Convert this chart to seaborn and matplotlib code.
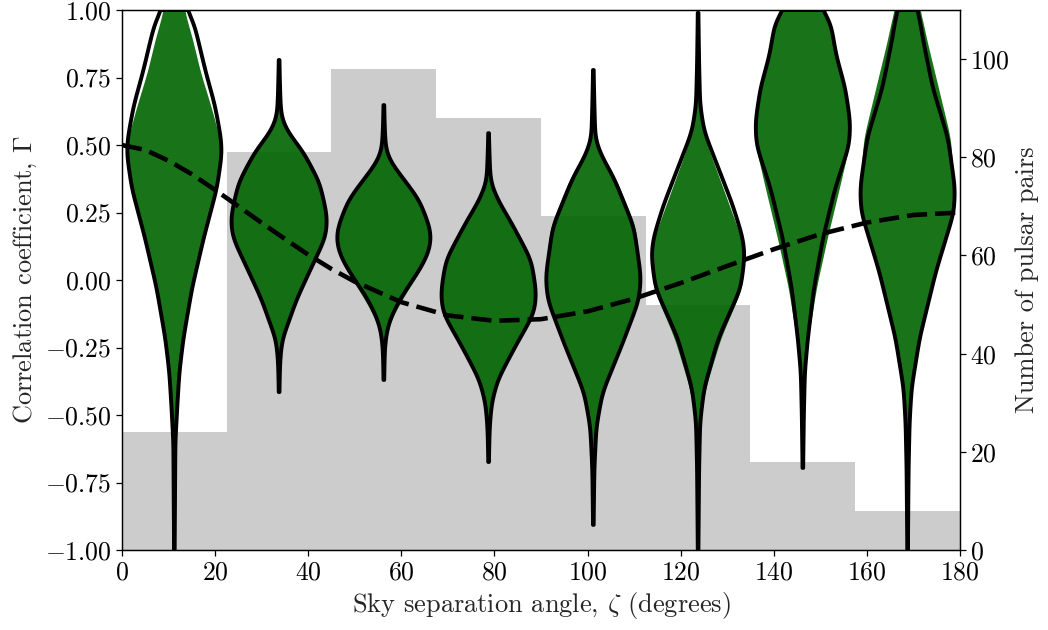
import matplotlib
matplotlib.use('Agg')
import matplotlib.pyplot as plt
import numpy as np
import seaborn as sns

# angular bins (degrees) and pulsar pairs in each bin
bin_edges = [0, 22.5, 45, 67.5, 90, 112.5, 135, 157.5, 180]
bin_centres = [11.25, 33.75, 56.25, 78.75, 101.25, 123.75, 146.25, 168.75]
pair_counts = [24, 81, 98, 88, 68, 50, 18, 8]

# Hellings-Downs curve
hd_angle = [0, 5, 10, 15, 20, 25, 30, 35, 40, 45, 50, 60, 70, 80, 90, 100, 110, 120, 130,
            140, 150, 160, 170, 180]
hd_gamma = [0.500, 0.482, 0.442, 0.392, 0.334, 0.273, 0.212, 0.152, 0.094, 0.041, -0.006,
            -0.082, -0.131, -0.151, -0.145, -0.116, -0.069, -0.011, 0.052, 0.114, 0.170,
            0.213, 0.241, 0.250]

# violin profiles: (correlation, relative density) for each bin
black_profiles = [
    [(-1.0, 0.3), (-0.6, 1), (-0.46, 3), (-0.34, 5), (-0.215, 9), (-0.03, 17.5), (0.156, 29),
     (0.34, 42), (0.47, 47), (0.526, 46), (0.648, 40), (0.77, 31), (0.896, 23), (0.956, 19),
     (0.985, 15), (1.0, 11.7)],
    [(-0.415, 0.3), (-0.30, 1), (-0.22, 3), (-0.16, 9), (-0.074, 17), (0.048, 32), (0.16, 46),
     (0.233, 47.5), (0.36, 40), (0.48, 23), (0.55, 8), (0.604, 2), (0.70, 1), (0.815, 0.3)],
    [(-0.37, 0.3), (-0.25, 1), (-0.185, 3), (-0.137, 7), (-0.063, 17), (0.037, 35), (0.10, 44),
     (0.15, 46.5), (0.185, 46), (0.296, 35), (0.396, 15), (0.44, 6), (0.48, 2), (0.55, 1),
     (0.648, 0.3)],
    [(-0.674, 0.3), (-0.55, 1), (-0.456, 3), (-0.37, 9), (-0.248, 26), (-0.122, 45), (-0.048, 47),
     (0.074, 42), (0.222, 21), (0.29, 10), (0.36, 2), (0.45, 1), (0.544, 0.3)],
    [(-0.907, 0.3), (-0.7, 1), (-0.544, 3), (-0.418, 9), (-0.233, 29), (-0.074, 45), (0.011, 47),
     (0.196, 40), (0.381, 20), (0.46, 8), (0.52, 2), (0.65, 1), (0.778, 0.3)],
    [(-1.0, 0.3), (-0.7, 1), (-0.526, 2), (-0.4, 6), (-0.215, 20), (-0.03, 42), (0.093, 46),
     (0.156, 44), (0.278, 34), (0.463, 15), (0.55, 6), (0.648, 2), (0.8, 1), (0.99, 0.3)],
    [(-0.696, 0.3), (-0.5, 1), (-0.34, 2), (-0.215, 5), (-0.03, 11), (0.156, 20), (0.34, 32),
     (0.5, 46), (0.585, 47), (0.711, 42), (0.833, 33), (0.956, 27.5), (0.99, 22), (1.0, 17.5)],
    [(-1.0, 0.3), (-0.7, 1), (-0.526, 2), (-0.4, 4), (-0.215, 12), (0.03, 28), (0.252, 46),
     (0.34, 47), (0.526, 40), (0.711, 25), (0.896, 15), (0.97, 12), (1.0, 9)],
]
green_profiles = [
    [(-1.0, 0.2), (-0.6, 1), (-0.46, 3), (-0.34, 5), (-0.215, 9), (-0.03, 17.5), (0.156, 29),
     (0.34, 42), (0.47, 46.5), (0.526, 45), (0.648, 36), (0.77, 26), (0.896, 18), (0.96, 13),
     (1.0, 10)],
    [(-0.415, 0.2), (-0.30, 1), (-0.22, 3), (-0.16, 8), (-0.074, 16), (0.048, 31), (0.16, 46),
     (0.233, 47.5), (0.36, 42), (0.48, 25), (0.55, 9), (0.604, 2), (0.70, 1), (0.815, 0.2)],
    [(-0.37, 0.2), (-0.25, 1), (-0.185, 4), (-0.137, 9), (-0.063, 20), (0.037, 37), (0.10, 45),
     (0.15, 46.5), (0.185, 46), (0.296, 35), (0.396, 15), (0.44, 6), (0.48, 2), (0.55, 1),
     (0.648, 0.2)],
    [(-0.674, 0.2), (-0.55, 1), (-0.456, 3), (-0.37, 9), (-0.248, 26), (-0.122, 45), (-0.048, 47),
     (0.074, 43), (0.222, 23), (0.29, 11), (0.36, 2), (0.45, 1), (0.544, 0.2)],
    [(-0.907, 0.2), (-0.7, 1), (-0.544, 3), (-0.418, 8), (-0.233, 27), (-0.074, 44), (0.011, 47),
     (0.196, 42), (0.381, 22), (0.46, 9), (0.52, 2), (0.65, 1), (0.778, 0.2)],
    [(-1.0, 0.2), (-0.7, 1), (-0.526, 2), (-0.4, 8), (-0.215, 23), (-0.03, 44), (0.093, 46),
     (0.156, 43), (0.278, 31), (0.463, 13), (0.55, 5), (0.648, 2), (0.8, 1), (0.99, 0.2)],
    [(-0.696, 0.2), (-0.5, 1), (-0.34, 2), (-0.215, 6), (-0.03, 14), (0.156, 25), (0.34, 37),
     (0.5, 47), (0.585, 47), (0.711, 42), (0.833, 33), (0.956, 27.5), (0.99, 22), (1.0, 17.5)],
    [(-1.0, 0.2), (-0.7, 1), (-0.526, 2), (-0.4, 4), (-0.215, 12), (0.03, 28), (0.252, 46),
     (0.34, 47), (0.526, 43), (0.711, 31), (0.896, 19), (0.97, 15), (1.0, 12)],
]

sns.set_style('ticks')
plt.rcParams.update({
    'font.family': 'serif',
    'font.serif': ['cmr10', 'DejaVu Serif'],
    'mathtext.fontset': 'cm',
    'axes.formatter.use_mathtext': True,
    'font.size': 18.5,
    'axes.labelsize': 19,
    'xtick.labelsize': 18.5,
    'ytick.labelsize': 18.5,
    'axes.edgecolor': 'black',
    'axes.linewidth': 0.9,
    'xtick.color': 'black',
    'ytick.color': 'black',
    'xtick.major.size': 4.5,
    'ytick.major.size': 4.5,
    'xtick.major.width': 0.9,
    'ytick.major.width': 0.9,
    'xtick.major.pad': 3,
    'ytick.major.pad': 3,
})

px_per_deg = 838 / 180.0


def vpstats(profile, smooth=0.03):
    # smooth outline through the read-off knots
    ys = np.array([p[0] for p in profile])
    ws = np.array([p[1] for p in profile])
    coords = np.linspace(ys.min(), ys.max(), 600)
    vals = np.interp(coords, ys, ws)
    step = coords[1] - coords[0]
    half = int(3 * smooth / step)
    kern = np.exp(-0.5 * (np.arange(-half, half + 1) * step / smooth) ** 2)
    kern /= kern.sum()
    padded = np.concatenate([np.full(half, vals[0]), vals, np.full(half, vals[-1])])
    vals = np.convolve(padded, kern, mode='valid')
    vals = vals * ws.max() / vals.max()
    return dict(coords=coords, vals=vals, mean=0.0, median=0.0,
                min=coords.min(), max=coords.max())


fig, ax = plt.subplots(figsize=(10.48, 6.3), dpi=100)
fig.subplots_adjust(left=0.1164, right=0.916, top=0.984, bottom=0.127)

ax_hist = ax.twinx()
sns.histplot(x=bin_centres, weights=pair_counts, bins=bin_edges, ax=ax_hist,
             color='0.8', alpha=1, edgecolor='none', linewidth=0)
ax_hist.set_ylim(0, 110)
ax_hist.set_yticks([0, 20, 40, 60, 80, 100])
ax_hist.set_ylabel('Number of pulsar pairs')

ax.set_zorder(ax_hist.get_zorder() + 1)
ax.patch.set_visible(False)

green_stats = [vpstats(p) for p in green_profiles]
green_w = [2 * max(v for _, v in p) / px_per_deg for p in green_profiles]
parts = ax.violin(green_stats, positions=bin_centres, widths=green_w,
                  showextrema=False, showmeans=False, showmedians=False)
for body in parts['bodies']:
    body.set_facecolor('darkgreen')
    body.set_edgecolor('none')
    body.set_alpha(0.9)
    body.set_zorder(2)

black_stats = [vpstats(p) for p in black_profiles]
black_w = [2 * max(v for _, v in p) / px_per_deg for p in black_profiles]
parts = ax.violin(black_stats, positions=bin_centres, widths=black_w,
                  showextrema=False, showmeans=False, showmedians=False)
for body in parts['bodies']:
    body.set_facecolor('none')
    body.set_edgecolor('black')
    body.set_linewidth(2.8)
    body.set_alpha(1)
    body.set_zorder(3)

sns.lineplot(x=hd_angle, y=hd_gamma, ax=ax, color='black', linestyle='--',
             linewidth=3.3, zorder=4)
ax.lines[-1].set_dashes((4.4, 1.75))

ax.set_xlim(0, 180)
ax.set_ylim(-1, 1)
ax.set_xticks(range(0, 181, 20))
ax.set_yticks(np.arange(-1, 1.01, 0.25))
ax.yaxis.set_major_formatter(matplotlib.ticker.FuncFormatter(lambda v, p: rf'${v:.2f}$'))
ax.set_xlabel(r'Sky separation angle, $\zeta$ (degrees)')
ax.set_ylabel(r'Correlation coefficient, $\Gamma$')
ax_hist.set_xlim(0, 180)

fig.savefig('out.png', dpi=100)
